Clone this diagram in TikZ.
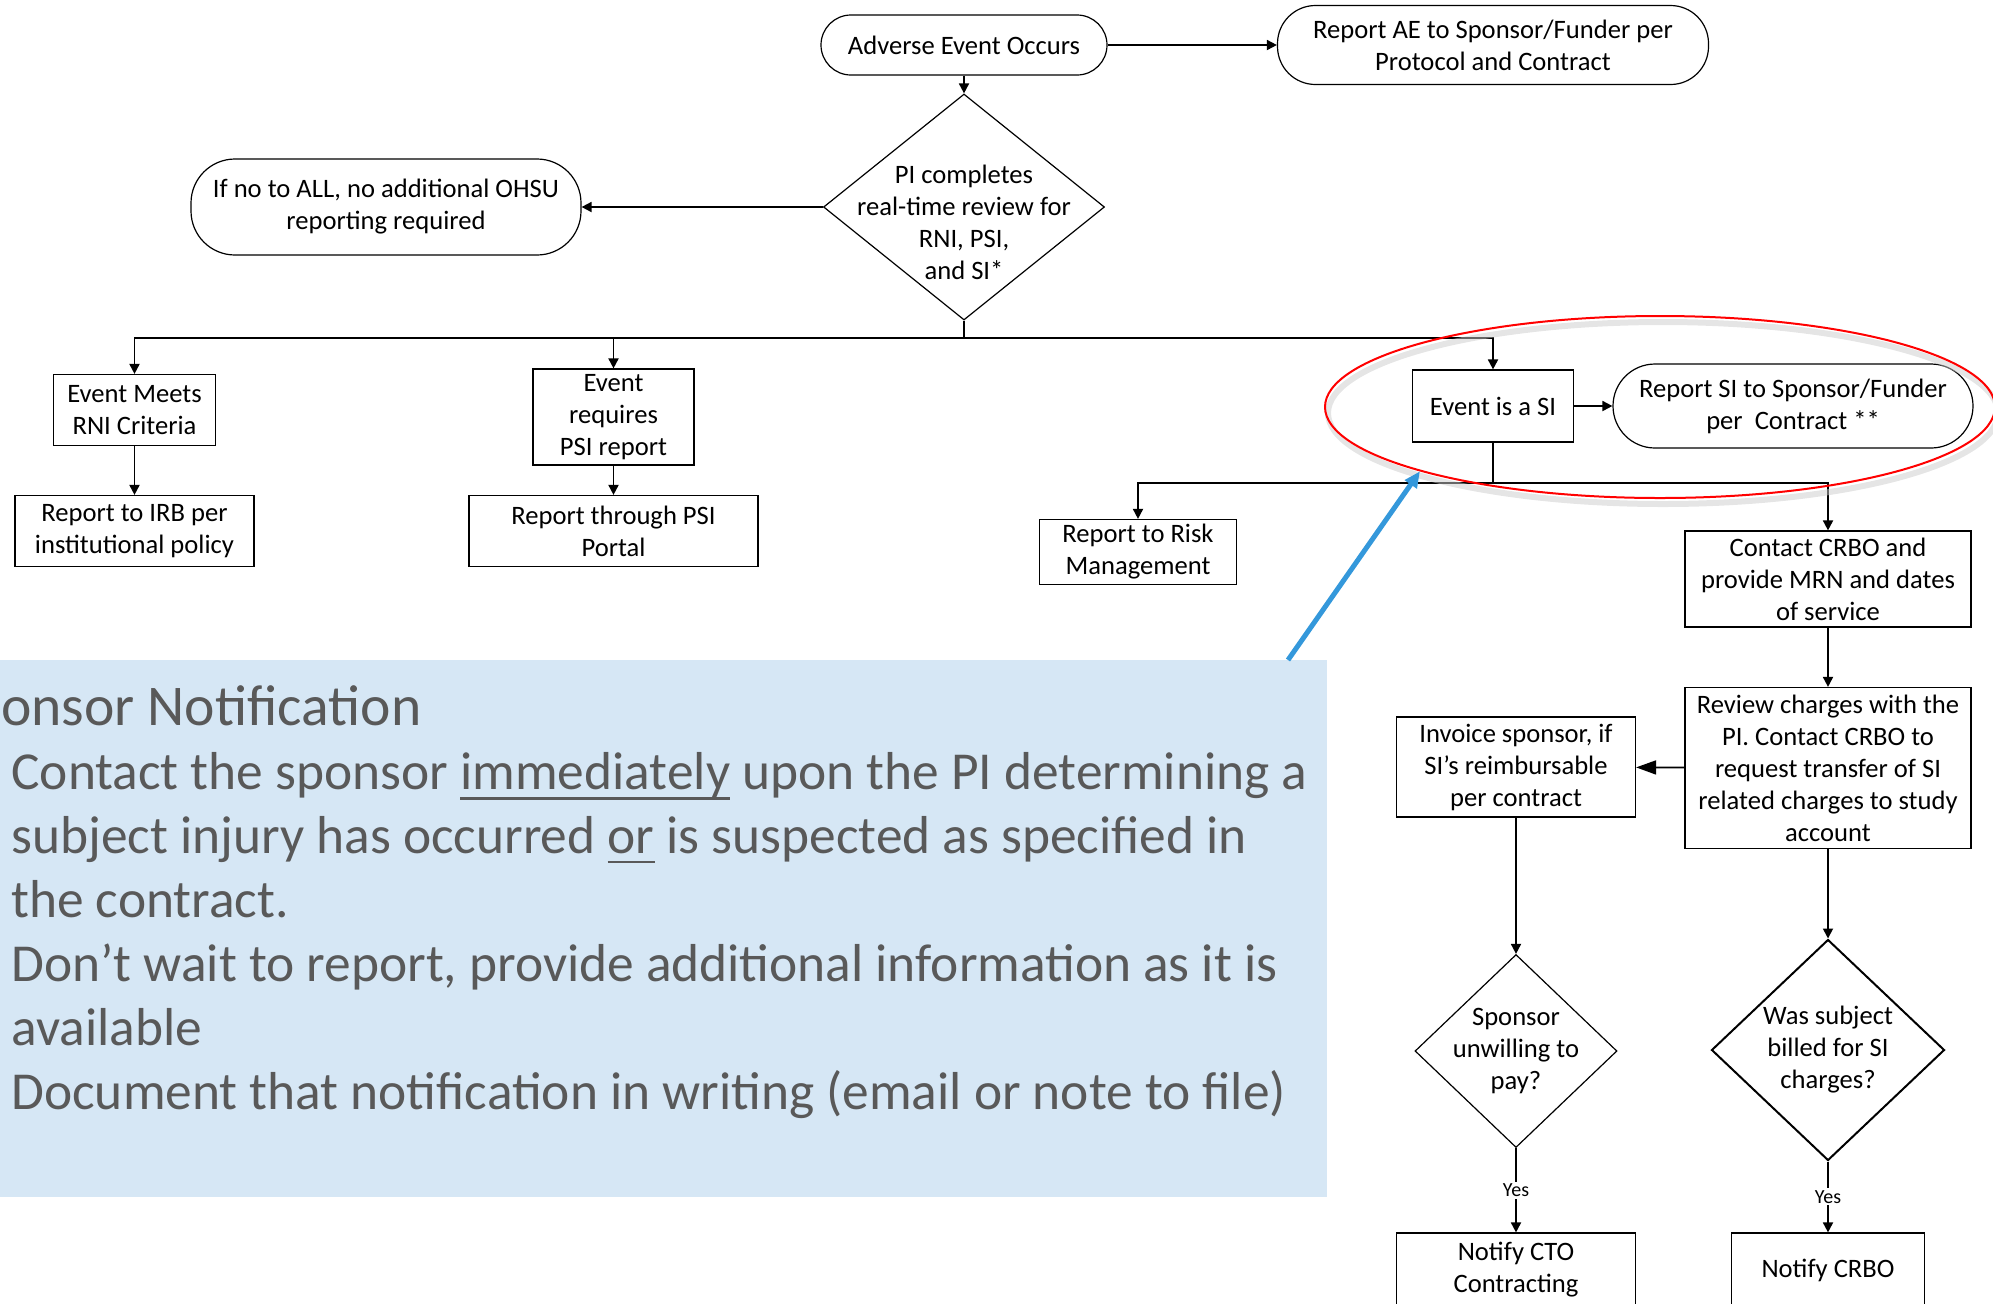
\documentclass[tikz,border=0pt]{standalone}
\usepackage{fontspec}
\setmainfont{Carlito}
\usepackage{xcolor}
\usepackage{tikz}
\usetikzlibrary{arrows.meta, positioning, shapes.geometric}

\definecolor{notefill}{RGB}{214,231,245}
\definecolor{notetext}{RGB}{89,89,89}
\definecolor{pointer}{RGB}{52,152,219}
\newcommand{\ulword}[1]{\setbox0\hbox{#1}\rlap{\rule[-5pt]{\wd0}{1.4pt}}\box0\relax}

\begin{document}
\begin{tikzpicture}[x=0.5pt, y=-0.5pt, >={Triangle[length=5pt, width=5pt]},
    every node/.style={font=\fontsize{13.3}{16}\selectfont},
    box/.style={draw, line width=0.6pt, align=center, inner sep=1pt},
    pill/.style={draw, line width=0.6pt, align=center, inner sep=1pt, rounded corners=#1},
    decision/.style={draw, diamond, line width=0.6pt, inner sep=0pt},
    link/.style={->, line width=0.9pt},
    yes/.style={fill=white, inner sep=1pt, font=\fontsize{10}{12}\selectfont}]
    \useasboundingbox (0,0) rectangle (1993,1303);
    \clip (0,0) rectangle (1993,1303);

    % Noduri sus
    \node[pill=15pt, minimum width=143pt, minimum height=30pt] (ae) at (964,45) {Adverse Event Occurs};
    \node[pill=19pt, minimum width=215.5pt, minimum height=39.5pt] (aerep) at (1493,45) {Report AE to Sponsor/Funder per\\Protocol and Contract};
    \node[decision, minimum width=140.5pt, minimum height=113pt,
          label={[align=center, yshift=-7.5pt]center:{PI completes\\real-time review for\\RNI, PSI,\\and SI*}}] (review) at (964,207) {};
    \node[pill=22pt, minimum width=195pt, minimum height=48pt] (noall) at (386,207) {If no to ALL, no additional OHSU\\reporting required};
    \coordinate (split1) at (964,338);

    % Ramuri
    \node[box, minimum width=81pt, minimum height=35.5pt] (rni) at (134.5,410) {Event Meets\\RNI Criteria};
    \node[box, minimum width=80.5pt, minimum height=48pt] (psi) at (613.5,417) {Event\\requires\\PSI report};
    \node[box, minimum width=80.5pt, minimum height=36pt] (si) at (1493,406) {Event is a SI};
    \node[pill=21pt, minimum width=180pt, minimum height=42pt] (sirep) at (1793,406) {Report SI to Sponsor/Funder\\per\ \ Contract **};
    \node[box, minimum width=119.5pt, minimum height=35.5pt] (irb) at (134.5,531) {Report to IRB per\\institutional policy};
    \node[box, minimum width=144.5pt, minimum height=35.5pt] (portal) at (613.5,531) {Report through PSI\\Portal};
    \coordinate (split2) at (1493,483);
    \node[box, minimum width=98.5pt, minimum height=32.5pt] (risk) at (1138,552) {Report to Risk\\Management};
    \node[box, minimum width=143pt, minimum height=48pt] (crbo) at (1828,579) {Contact CRBO and\\provide MRN and dates\\of service};
    \node[box, minimum width=143pt, minimum height=80.5pt] (charges) at (1828,768) {Review charges with the\\PI. Contact CRBO to\\request transfer of SI\\related charges to study\\account};
    \node[box, minimum width=119.5pt, minimum height=50pt] (invoice) at (1516,767) {Invoice sponsor, if\\SI’s reimbursable\\per contract};
    \node[decision, minimum width=101pt, minimum height=96.5pt,
          label={[align=center]center:{Sponsor\\unwilling to\\pay?}}] (unwilling) at (1516,1051) {};
    \node[decision, line width=1pt, minimum width=116.5pt, minimum height=110.5pt,
          label={[align=center]center:{Was subject\\billed for SI\\charges?}}] (billed) at (1828,1050) {};
    \node[box, minimum width=119.5pt, minimum height=37pt] (cto) at (1516,1270) {Notify CTO\\Contracting};
    \node[box, minimum width=96.5pt, minimum height=37pt] (notcrbo) at (1828,1270) {Notify CRBO};

    % Muchii
    \draw[link] (ae) -- (aerep);
    \draw[link] (ae) -- (review);
    \draw[link] (review) -- (noall);
    \draw[line width=0.9pt] (review) -- (split1);
    \draw[link] (split1) -| (rni);
    \draw[link] (split1) -| (psi);
    \draw[link] (split1) -| (si);
    \draw[link] (rni) -- (irb);
    \draw[link] (psi) -- (portal);
    \draw[link] (si) -- (sirep);
    \draw[line width=0.9pt] (si) -- (split2);
    \draw[link] (split2) -| (risk);
    \draw[link] (split2) -| (crbo);
    \draw[link] (crbo) -- (charges);
    \draw[line width=0.9pt, -{Triangle[length=10pt, width=7pt]}] (charges) -- (invoice);
    \draw[link] (invoice) -- (unwilling);
    \draw[link] (charges) -- (billed);
    \draw[link] (unwilling) -- node[yes] (yes1) {Yes} (cto);
    \draw[link] (billed) -- node[yes] (yes2) {Yes} (notcrbo);

    % Nota pentru sponsor
    \node[fill=notefill, anchor=north east, minimum width=700pt, minimum height=268.5pt, inner sep=0pt] (note) at (1327,660) {};
    \node[anchor=base west, inner sep=0pt, text=notetext, font=\fontsize{28.8}{34}\selectfont] (notetitle) at (-56,725) {Sponsor Notification};
    \node[anchor=base west, inner sep=0pt, align=left, text=notetext, font=\fontsize{26.7}{31.95}\selectfont] (notebody) at (11,1109)
        {Contact the sponsor \ulword{immediately} upon the PI determining a\\subject injury has occurred \ulword{or} is suspected as specified in\\the contract.\\Don’t wait to report, provide additional information as it is\\available\\Document that notification in writing (email or note to file)};

    % Cerc rosu si sageata
    \node[ellipse, draw=black!20, line width=3pt, opacity=0.5, minimum width=335pt, minimum height=91pt, inner sep=0pt] (ringshadow) at (1663,413) {};
    \node[ellipse, draw=red, line width=1pt, minimum width=335pt, minimum height=91pt, inner sep=0pt] (ring) at (1660,407) {};
    \coordinate (tail) at (1288,660);
    \draw[pointer, line width=2.5pt, -{Triangle[length=8pt, width=7pt]}] (tail) -- (ring.195.5);
\end{tikzpicture}
\end{document}
